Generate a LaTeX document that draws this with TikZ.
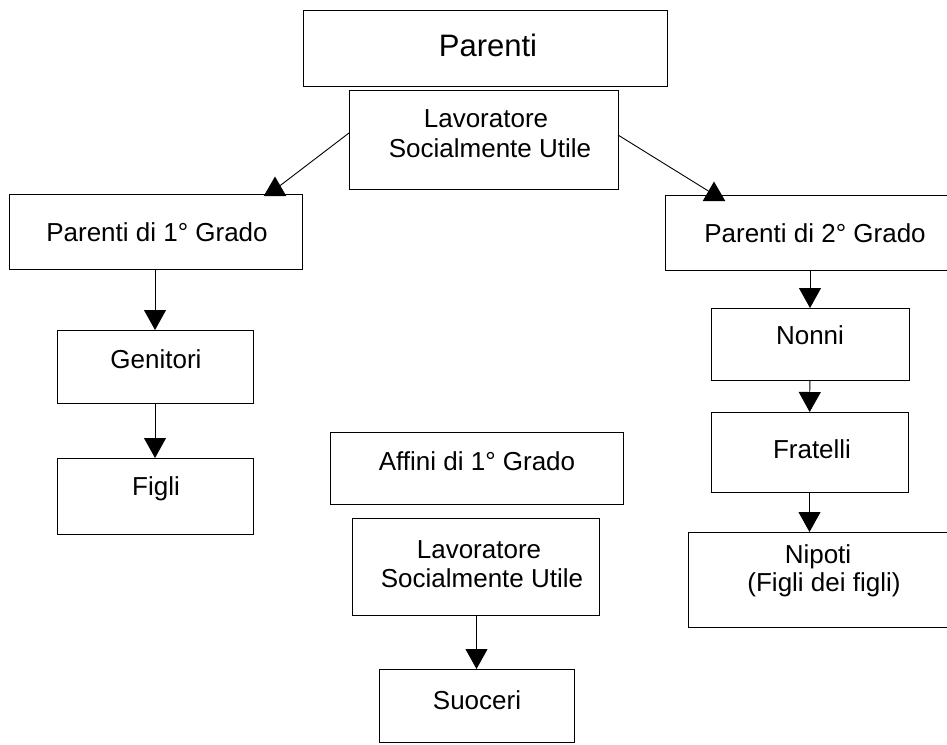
\documentclass[tikz,border=0pt]{standalone}
\usepackage{fontspec}
\setmainfont{Liberation Sans}
\usetikzlibrary{arrows.meta,shapes.geometric}
\begin{document}
\begin{tikzpicture}[x=1pt,y=-1pt,
  box/.style={draw=black,line width=1pt,rectangle,inner sep=0pt,outer sep=0pt},
  txt/.style={font=\fontsize{26}{28}\selectfont,anchor=base,inner sep=0pt},
  big/.style={font=\fontsize{31}{34}\selectfont,anchor=base,inner sep=0pt},
  arr/.style={draw=black,line width=0.9pt,-{Triangle[width=22pt,length=20pt]}},
  tri/.style={regular polygon,regular polygon sides=3,fill=black,minimum size=26pt,inner sep=0pt,outer sep=0pt},
  link/.style={draw=black,line width=0.9pt}]
\fill[white] (0,0) rectangle (947,744);
\useasboundingbox (0,0) rectangle (947,744);
\clip (0,0) rectangle (947,744);

% boxes
\node[box,minimum width=364pt,minimum height=76pt] (parenti) at (485,48) {};
\node[box,minimum width=269pt,minimum height=99pt] (lavtop) at (483.5,139.5) {};
\node[box,minimum width=293pt,minimum height=75pt] (p1) at (155.5,231.5) {};
\node[box,minimum width=287pt,minimum height=75pt] (p2) at (808.5,232.5) {};
\node[box,minimum width=196pt,minimum height=73pt] (gen) at (155,366.5) {};
\node[box,minimum width=196pt,minimum height=76pt] (figli) at (155,496) {};
\node[box,minimum width=198pt,minimum height=72pt] (nonni) at (810,344) {};
\node[box,minimum width=197pt,minimum height=80pt] (fratelli) at (809.5,452) {};
\node[box,minimum width=264pt,minimum height=95pt] (nipoti) at (820,579.5) {};
\node[box,minimum width=293pt,minimum height=72pt] (affini) at (476.5,468) {};
\node[box,minimum width=247pt,minimum height=97pt] (lavbot) at (475.5,566.5) {};
\node[box,minimum width=195pt,minimum height=73pt] (suoceri) at (476.5,705.5) {};

% texts
\node[big] (tparenti) at (488,56) {Parenti};
\node[txt] (tlav1) at (486,127) {Lavoratore};
\node[txt] (tlav2) at (490,157) {Socialmente Utile};
\node[txt] (tp1) at (157,241) {Parenti di 1° Grado};
\node[txt] (tp2) at (815,242) {Parenti di 2° Grado};
\node[txt] (tgen) at (156,368) {Genitori};
\node[txt] (tfigli) at (156,495) {Figli};
\node[txt] (tnonni) at (810,344) {Nonni};
\node[txt] (tfrat) at (812,458) {Fratelli};
\node[txt] (tnip1) at (818,563) {Nipoti};
\node[txt] (tnip2) at (824,591) {(Figli dei figli)};
\node[txt] (taff) at (477,470) {Affini di 1° Grado};
\node[txt] (tlb1) at (479,558) {Lavoratore};
\node[txt] (tlb2) at (482,587) {Socialmente Utile};
\node[txt] (tsuo) at (477,709) {Suoceri};

% diagonal connectors with upright triangle heads
\node[tri] (tri1) at (275,189.5) {};
\node[tri] (tri2) at (714,194.5) {};
\draw[link] ([yshift=6.5pt]lavtop.west) -- (tri1);
\draw[link] ([yshift=4.5pt]lavtop.east) -- (tri2);

% vertical arrows
\draw[arr] (p1.south -| gen.north) -- (gen.north);
\draw[arr] (gen) -- (figli);
\draw[arr] (p2.south -| nonni.north) -- (nonni.north);
\draw[arr] (nonni) -- (fratelli);
\draw[arr] (fratelli.south) -- (fratelli.south |- nipoti.north);
\draw[arr] (lavbot.south -| suoceri.north) -- (suoceri.north);
\end{tikzpicture}
\end{document}
